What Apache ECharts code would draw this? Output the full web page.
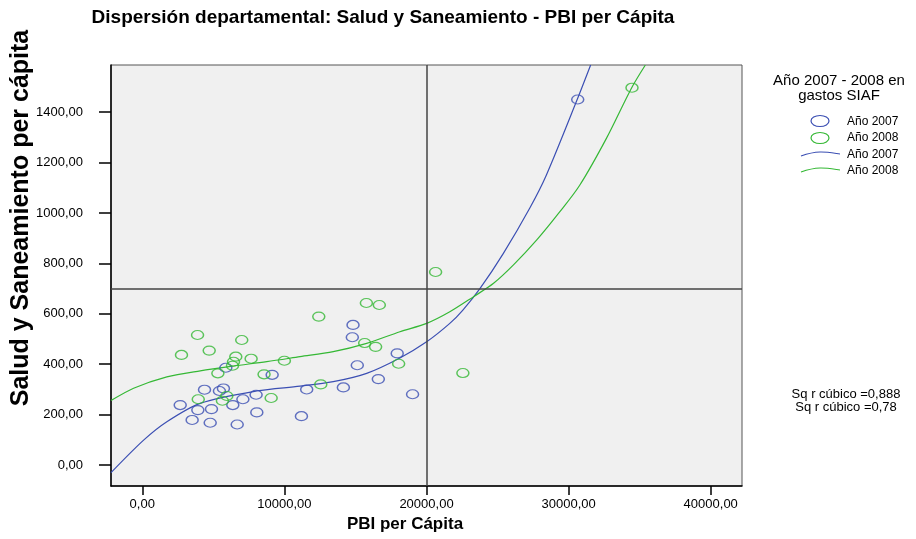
<!DOCTYPE html>
<html>
<head>
<meta charset="utf-8">
<script src="https://cdn.jsdelivr.net/npm/echarts@6/dist/echarts.min.js"></script>
<style>
  html, body { margin: 0; padding: 0; background: #fff; }
  #chart { width: 916px; height: 539px; }
</style>
</head>
<body>
<div id="chart"></div>
<script>
// tick labels
const xTicks = [0, 10000, 20000, 30000, 40000];
const yTicks = [0, 200, 400, 600, 800, 1000, 1200, 1400];

// Año 2007 (puntos)
const pbi2007 = [30640, 5880, 4380, 5430, 5710, 2670, 3910, 4870, 6370, 7080, 8010, 9140, 3510,
  4780, 6680, 8060, 11570, 11200, 14830, 14780, 17940, 15130, 16610, 14150, 19020];
const salud2007 = [1450, 386, 299, 294, 304, 238, 218, 222, 238, 261, 279, 358, 179,
  168, 161, 209, 300, 194, 556, 507, 443, 396, 341, 308, 281];

// Año 2008 (puntos)
const pbi2008 = [3890, 2760, 4710, 7000, 6580, 6420, 6350, 7660, 10000, 5320, 8570, 3940, 5950,
  5640, 9070, 12560, 15770, 16680, 15650, 16420, 18040, 22560, 20640, 34460, 12420];
const salud2008 = [516, 437, 454, 496, 430, 410, 394, 422, 414, 364, 360, 261, 274,
  255, 266, 320, 643, 635, 484, 469, 402, 365, 766, 1497, 589];

// curvas cúbicas
const fitX2007 = [-2200, 95, 1730, 4080, 8060, 11100, 13440, 15790, 18130, 20010, 21640, 22560, 23770, 25410, 27270, 28430, 30610, 31550];
const fitY2007 = [-30, 99, 172, 245, 294, 313, 331, 364, 425, 489, 562, 615, 701, 840, 1020, 1150, 1451, 1587];
const fitX2008 = [-2200, -610, 1730, 4080, 6420, 8760, 11100, 13440, 15790, 18130, 20010, 21640, 23310, 24720, 26120, 27760, 29370, 30780, 32650, 34430, 35400];
const fitY2008 = [256, 305, 350, 374, 393, 410, 430, 450, 483, 529, 562, 608, 668, 721, 794, 893, 1004, 1110, 1295, 1496, 1587];

// líneas de referencia
const refX = 20000;
const refY = 700;

const blue = '#3b4fb3';
const green = '#35b835';
const font = '"Liberation Sans", Arial, sans-serif';

const zip = (a, b) => a.map((v, i) => [v, b[i]]);
const fmt = v => v.toFixed(2).replace('.', ',');

var myChart = echarts.init(document.getElementById('chart'));

const option = {
  animation: false,
  backgroundColor: '#fff',
  textStyle: { fontFamily: font },
  grid: {
    left: 111, right: 174, top: 65, bottom: 53,
    show: true,
    backgroundColor: '#f0f0f0',
    borderColor: '#555',
    borderWidth: 1
  },
  xAxis: {
    type: 'value',
    min: -2200,
    max: 42200,
    axisLine: { show: true, onZero: false, lineStyle: { color: '#000', width: 1.5 } },
    axisTick: { show: true, customValues: xTicks, length: 9, lineStyle: { color: '#000', width: 1.5 } },
    axisLabel: { customValues: xTicks, formatter: fmt, color: '#000', fontSize: 13, margin: 12, fontFamily: font },
    splitLine: { show: false }
  },
  yAxis: {
    type: 'value',
    min: -83,
    max: 1587,
    axisLine: { show: true, onZero: false, lineStyle: { color: '#000', width: 1.5 } },
    axisTick: { show: true, customValues: yTicks, length: 12, lineStyle: { color: '#000', width: 1.5 } },
    axisLabel: { customValues: yTicks, formatter: fmt, color: '#000', fontSize: 13, margin: 28, fontFamily: font },
    splitLine: { show: false }
  },
  series: [
    {
      name: 'Año 2007',
      type: 'scatter',
      data: zip(pbi2007, salud2007),
      symbol: 'circle',
      symbolSize: [12, 9],
      itemStyle: { color: 'rgba(0,0,0,0)', borderColor: blue, borderWidth: 1.3 },
      z: 3,
      markLine: {
        silent: true,
        symbol: ['none', 'none'],
        label: { show: false },
        lineStyle: { color: '#444', width: 1.5, type: 'solid' },
        data: [{ xAxis: refX }, { yAxis: refY }]
      }
    },
    {
      name: 'Año 2008',
      type: 'scatter',
      data: zip(pbi2008, salud2008),
      symbol: 'circle',
      symbolSize: [12, 9],
      itemStyle: { color: 'rgba(0,0,0,0)', borderColor: green, borderWidth: 1.3 },
      z: 3
    },
    {
      name: 'Año 2007 cúbico',
      type: 'line',
      data: zip(fitX2007, fitY2007),
      smooth: 0.3,
      showSymbol: false,
      lineStyle: { color: blue, width: 1.2 },
      z: 2
    },
    {
      name: 'Año 2008 cúbico',
      type: 'line',
      data: zip(fitX2008, fitY2008),
      smooth: 0.3,
      showSymbol: false,
      lineStyle: { color: green, width: 1.2 },
      z: 2
    }
  ],
  graphic: [
    {
      type: 'text', x: 383, y: 18,
      style: { text: 'Dispersión departamental: Salud y Saneamiento - PBI per Cápita', font: 'bold 19px ' + font, fill: '#000', textAlign: 'center', textVerticalAlign: 'middle' }
    },
    {
      type: 'text', x: 405, y: 524,
      style: { text: 'PBI per Cápita', font: 'bold 17px ' + font, fill: '#000', textAlign: 'center', textVerticalAlign: 'middle' }
    },
    {
      type: 'text', x: 21, y: 218, rotation: Math.PI / 2,
      style: { text: 'Salud y Saneamiento per cápita', font: 'bold 25px ' + font, fill: '#000', textAlign: 'center', textVerticalAlign: 'middle' }
    },
    // leyenda
    {
      type: 'text', x: 839, y: 81,
      style: { text: 'Año 2007 - 2008 en', font: '15px ' + font, fill: '#000', textAlign: 'center', textVerticalAlign: 'middle' }
    },
    {
      type: 'text', x: 839, y: 96,
      style: { text: 'gastos SIAF', font: '15px ' + font, fill: '#000', textAlign: 'center', textVerticalAlign: 'middle' }
    },
    {
      type: 'ellipse', shape: { cx: 820, cy: 121, rx: 9, ry: 5.5 },
      style: { fill: 'none', stroke: blue, lineWidth: 1.2 }
    },
    {
      type: 'ellipse', shape: { cx: 820, cy: 138, rx: 9, ry: 5.5 },
      style: { fill: 'none', stroke: green, lineWidth: 1.2 }
    },
    {
      type: 'bezierCurve', shape: { x1: 801, y1: 156, cpx1: 818, cpy1: 150, cpx2: 826, cpy2: 152, x2: 840, y2: 154 },
      style: { fill: 'none', stroke: blue, lineWidth: 1.2 }
    },
    {
      type: 'bezierCurve', shape: { x1: 801, y1: 172, cpx1: 818, cpy1: 166, cpx2: 826, cpy2: 168, x2: 840, y2: 170 },
      style: { fill: 'none', stroke: green, lineWidth: 1.2 }
    },
    { type: 'text', x: 847, y: 122, style: { text: 'Año 2007', font: '12px ' + font, fill: '#000', textVerticalAlign: 'middle' } },
    { type: 'text', x: 847, y: 138, style: { text: 'Año 2008', font: '12px ' + font, fill: '#000', textVerticalAlign: 'middle' } },
    { type: 'text', x: 847, y: 155, style: { text: 'Año 2007', font: '12px ' + font, fill: '#000', textVerticalAlign: 'middle' } },
    { type: 'text', x: 847, y: 171, style: { text: 'Año 2008', font: '12px ' + font, fill: '#000', textVerticalAlign: 'middle' } },
    // R cuadrado
    { type: 'text', x: 846, y: 394, style: { text: 'Sq r cúbico =0,888', font: '13px ' + font, fill: '#000', textAlign: 'center', textVerticalAlign: 'middle' } },
    { type: 'text', x: 846, y: 407, style: { text: 'Sq r cúbico =0,78', font: '13px ' + font, fill: '#000', textAlign: 'center', textVerticalAlign: 'middle' } }
  ]
};

myChart.setOption(option);
</script>
</body>
</html>
